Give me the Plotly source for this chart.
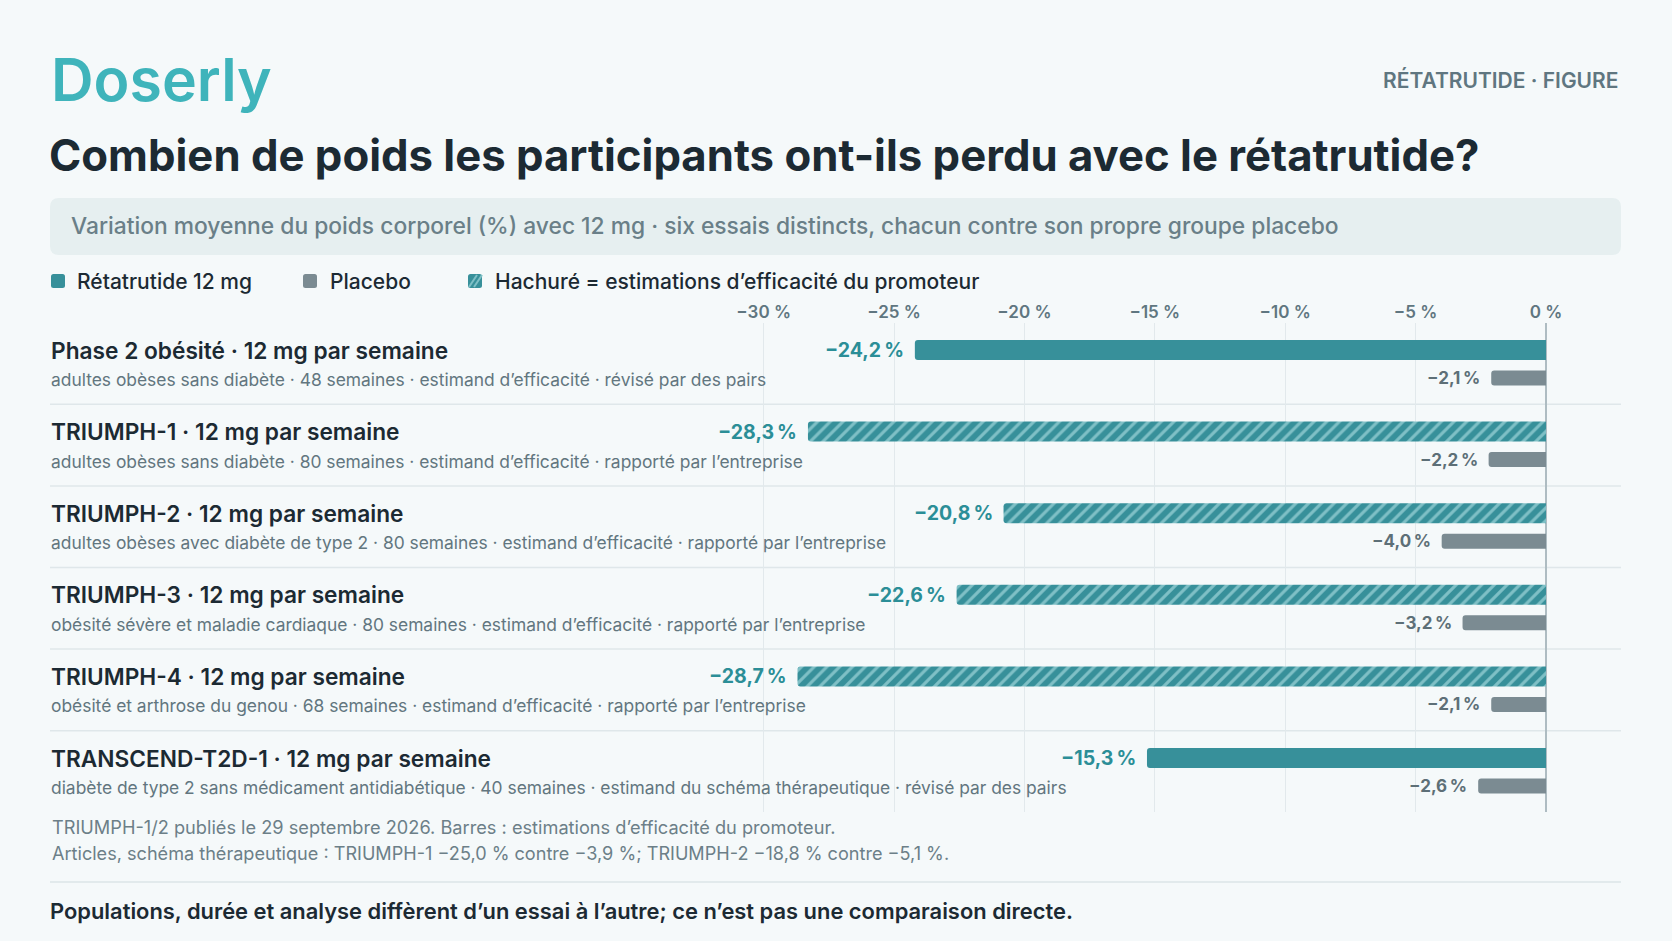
import plotly.graph_objects as go

# ---------------- data ----------------
trials = [
    "Phase 2 obésité · 12 mg par semaine",
    "TRIUMPH-1 · 12 mg par semaine",
    "TRIUMPH-2 · 12 mg par semaine",
    "TRIUMPH-3 · 12 mg par semaine",
    "TRIUMPH-4 · 12 mg par semaine",
    "TRANSCEND-T2D-1 · 12 mg par semaine",
]
details = [
    "adultes obèses sans diabète · 48 semaines · estimand d’efficacité · révisé par des pairs",
    "adultes obèses sans diabète · 80 semaines · estimand d’efficacité · rapporté par l’entreprise",
    "adultes obèses avec diabète de type 2 · 80 semaines · estimand d’efficacité · rapporté par l’entreprise",
    "obésité sévère et maladie cardiaque · 80 semaines · estimand d’efficacité · rapporté par l’entreprise",
    "obésité et arthrose du genou · 68 semaines · estimand d’efficacité · rapporté par l’entreprise",
    "diabète de type 2 sans médicament antidiabétique · 40 semaines · estimand du schéma thérapeutique · révisé par des pairs",
]
retatrutide = [-24.2, -28.3, -20.8, -22.6, -28.7, -15.3]
placebo = [-2.1, -2.2, -4.0, -3.2, -2.1, -2.6]
hatched = [False, True, True, True, True, False]
tick_vals = [-30, -25, -20, -15, -10, -5, 0]
tick_text = ["−30 %", "−25 %", "−20 %", "−15 %", "−10 %", "−5 %", "0 %"]
legend_labels = ["Rétatrutide 12 mg", "Placebo", "Hachuré = estimations d’efficacité du promoteur"]

# ---------------- style ----------------
W, H = 1672, 941
FONT = "Inter"
BG = "#f5f9fa"
TEAL = "#37909a"
TEAL_LIGHT = "#7fc0c6"
TEAL_TXT = "#2b8e97"
GREY_BAR = "#7b8b92"
DARK = "#1c2a33"
MUTED = "#62767f"
GRID = "#e2e9ec"


def px_x(p):
    return p / W


def px_y(p):
    return 1 - p / H


def fmt(v):
    return "−" + f"{abs(v):.1f}".replace(".", ",") + "\u202f%"


def rounded_rect(xa, xb, ya, yb, r):
    """rounded rectangle path in paper coords from pixel box"""
    x0, x1 = px_x(xa), px_x(xb)
    y0, y1 = px_y(yb), px_y(ya)
    rx, ry = r / W, r / H
    return (f"M{x0+rx},{y0} L{x1-rx},{y0} Q{x1},{y0} {x1},{y0+ry} L{x1},{y1-ry} Q{x1},{y1} {x1-rx},{y1} "
            f"L{x0+rx},{y1} Q{x0},{y1} {x0},{y1-ry} L{x0},{y0+ry} Q{x0},{y0} {x0+rx},{y0} Z")


# y-axis mapping: category band from 322.7px to 812.3px
Y_TOP, Y_BOT = 322.7, 812.3
ROW = (Y_BOT - Y_TOP) / len(trials)
teal_w = 20 / ROW
teal_off = -13.5 / ROW - teal_w / 2
plac_w = 15 / ROW
plac_off = 14.5 / ROW - plac_w / 2

fig = go.Figure()

solid_idx = [i for i, h in enumerate(hatched) if not h]
hatch_idx = [i for i, h in enumerate(hatched) if h]

fig.add_trace(go.Bar(
    name=legend_labels[0], orientation="h",
    x=[retatrutide[i] for i in solid_idx], y=[trials[i] for i in solid_idx],
    width=teal_w, offset=teal_off,
    marker=dict(color=TEAL, line=dict(width=0)), hoverinfo="skip",
))
fig.add_trace(go.Bar(
    name=legend_labels[1], orientation="h",
    x=placebo, y=trials, width=plac_w, offset=plac_off,
    marker=dict(color=GREY_BAR, line=dict(width=0)), hoverinfo="skip",
))
fig.add_trace(go.Bar(
    name=legend_labels[2], orientation="h",
    x=[retatrutide[i] for i in hatch_idx], y=[trials[i] for i in hatch_idx],
    width=teal_w, offset=teal_off,
    marker=dict(color=TEAL, line=dict(width=0),
                pattern=dict(shape="/", fillmode="replace", bgcolor=TEAL,
                             fgcolor=TEAL_LIGHT, size=9, solidity=0.35)),
    hoverinfo="skip",
))

ZERO_PX = 1546.0
PX_PER = 26.08
x_min = -ZERO_PX / PX_PER
x_max = (W - ZERO_PX) / PX_PER

annotations = []
shapes = []

for i, t in enumerate(trials):
    annotations.append(dict(x=retatrutide[i], y=t, xref="x", yref="y", text=fmt(retatrutide[i]),
                            showarrow=False, xanchor="right", yanchor="middle", xshift=-9, yshift=13.5,
                            font=dict(family=FONT, size=19.5, color=TEAL_TXT, weight=700)))
    annotations.append(dict(x=placebo[i], y=t, xref="x", yref="y", text=fmt(placebo[i]),
                            showarrow=False, xanchor="right", yanchor="middle", xshift=-9, yshift=-14.5,
                            font=dict(family=FONT, size=17, color="#5d6f77", weight=700)))
    annotations.append(dict(x=px_x(49), y=t, xref="paper", yref="y", text=t,
                            showarrow=False, xanchor="left", yanchor="middle", yshift=13.5,
                            font=dict(family=FONT, size=22.7, color=DARK, weight=600)))
    annotations.append(dict(x=px_x(49), y=t, xref="paper", yref="y", text=details[i],
                            showarrow=False, xanchor="left", yanchor="middle", yshift=-16,
                            font=dict(family=FONT, size=17.4, color=MUTED)))

for i in range(len(trials) - 1):
    shapes.append(dict(type="line", xref="paper", yref="y", x0=px_x(50), x1=px_x(1621),
                       y0=i + 0.5, y1=i + 0.5, line=dict(color="#dfe7ea", width=1.5), layer="below"))

# legend (manual)
LEG_Y = 281
sw = [(51, TEAL), (303, GREY_BAR), (468, TEAL)]
txt_x = [75, 328, 493]
for k, (sx, col) in enumerate(sw):
    shapes.append(dict(type="path", xref="paper", yref="paper",
                       path=rounded_rect(sx, sx + 14, LEG_Y - 7, LEG_Y + 7, 2.5),
                       fillcolor=col, line=dict(width=0)))
    annotations.append(dict(x=px_x(txt_x[k]), y=px_y(LEG_Y), xref="paper", yref="paper",
                            text=legend_labels[k], showarrow=False, xanchor="left", yanchor="middle",
                            font=dict(family=FONT, size=21, color=DARK, weight=500)))
# stripes on hatched swatch
hx = sw[2][0]
for d in [5, 10]:
    shapes.append(dict(type="line", xref="paper", yref="paper",
                       x0=px_x(hx + d - 4), y0=px_y(LEG_Y + 6), x1=px_x(hx + d + 4), y1=px_y(LEG_Y - 6),
                       line=dict(color=TEAL_LIGHT, width=2)))

annotations += [
    dict(x=px_x(49), y=px_y(79), xref="paper", yref="paper", text="Doserly", showarrow=False,
         xanchor="left", yanchor="middle", font=dict(family=FONT, size=59, color="#3fb4bb", weight=600)),
    dict(x=px_x(1621), y=px_y(80), xref="paper", yref="paper", text="RÉTATRUTIDE · FIGURE",
         showarrow=False, xanchor="right", yanchor="middle",
         font=dict(family=FONT, size=21, color="#5f7680", weight=600)),
    dict(x=px_x(47), y=px_y(156), xref="paper", yref="paper",
         text="Combien de poids les participants ont-ils perdu avec le rétatrutide?", showarrow=False,
         xanchor="left", yanchor="middle", font=dict(family=FONT, size=43.7, color=DARK, weight=700)),
    dict(x=px_x(69), y=px_y(226), xref="paper", yref="paper",
         text="Variation moyenne du poids corporel (%) avec 12 mg · six essais distincts, chacun contre son propre groupe placebo",
         showarrow=False, xanchor="left", yanchor="middle",
         font=dict(family=FONT, size=22.8, color="#6a7f88", weight=500)),
    dict(x=px_x(50), y=px_y(827), xref="paper", yref="paper",
         text="TRIUMPH-1/2 publiés le 29 septembre 2026. Barres : estimations d’efficacité du promoteur.",
         showarrow=False, xanchor="left", yanchor="middle", font=dict(family=FONT, size=18.2, color="#6c7f88")),
    dict(x=px_x(50), y=px_y(853), xref="paper", yref="paper",
         text="Articles, schéma thérapeutique : TRIUMPH-1 −25,0 % contre −3,9 %; TRIUMPH-2 −18,8 % contre −5,1 %.",
         showarrow=False, xanchor="left", yanchor="middle", font=dict(family=FONT, size=18.1, color="#6c7f88")),
    dict(x=px_x(48), y=px_y(911), xref="paper", yref="paper",
         text="Populations, durée et analyse diffèrent d’un essai à l’autre; ce n’est pas une comparaison directe.",
         showarrow=False, xanchor="left", yanchor="middle", font=dict(family=FONT, size=21.9, color=DARK, weight=600)),
]

shapes.append(dict(type="path", xref="paper", yref="paper", path=rounded_rect(50, 1621, 198, 255, 9),
                   fillcolor="#e6eff0", line=dict(width=0), layer="below"))
shapes.append(dict(type="line", xref="paper", yref="paper", x0=px_x(50), x1=px_x(1621),
                   y0=px_y(882), y1=px_y(882), line=dict(color="#dbe4e7", width=1.5), layer="below"))

fig.update_layout(
    width=W, height=H,
    margin=dict(l=0, r=0, t=0, b=0),
    paper_bgcolor=BG, plot_bgcolor="rgba(0,0,0,0)",
    barmode="overlay",
    barcornerradius=3,
    showlegend=False,
    xaxis=dict(domain=[0, 1], range=[x_min, x_max], side="top",
               tickvals=tick_vals, ticktext=tick_text, ticks="",
               tickfont=dict(family=FONT, size=17, color="#5f7680", weight=600),
               showgrid=True, gridcolor=GRID, gridwidth=1,
               zeroline=True, zerolinecolor="#aebcc2", zerolinewidth=1.5,
               showline=False, fixedrange=True),
    yaxis=dict(domain=[px_y(Y_BOT), px_y(Y_TOP)], type="category",
               categoryorder="array", categoryarray=trials,
               range=[len(trials) - 0.5, -0.5],
               showticklabels=False, showgrid=False, zeroline=False, showline=False, ticks="",
               fixedrange=True),
    annotations=annotations,
    shapes=shapes,
    font=dict(family=FONT),
)

fig.write_html("out.html")
